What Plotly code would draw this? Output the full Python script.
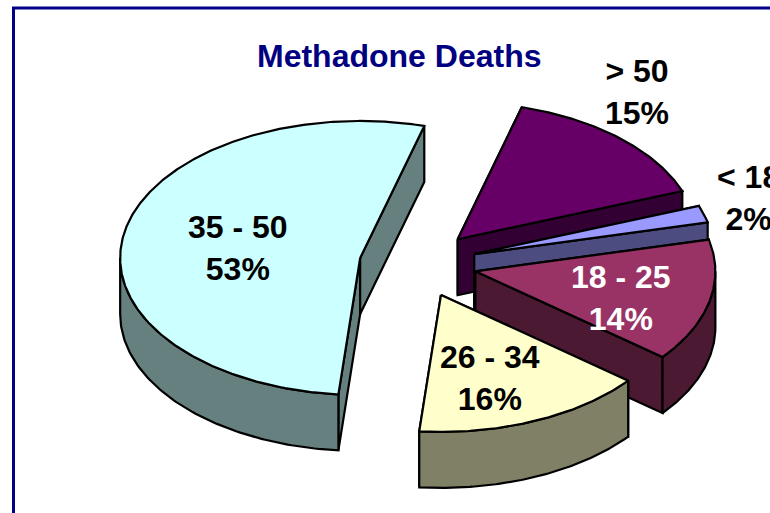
import numpy as np
import plotly.graph_objects as go

# ---- data ----
categories = ["35 - 50", "> 50", "< 18", "18 - 25", "26 - 34"]
percents = [52.86, 14.97, 2.0, 14.49, 15.68]   # shares
title_text = "Methadone Deaths"

# ---- styling ----
top_colors = ["#CCFFFF", "#660066", "#9999FF", "#993366", "#FFFFCC"]
wall_colors = ["#668080", "#330033", "#4C4C80", "#4C1933", "#808066"]
label_colors = ["#000000", "#000000", "#000000", "#FFFFFF", "#000000"]
label_pos = [(238, 248), (637, 92), (748, 198), (621, 298), (490, 378)]

CX, CY = 418, 264        # pie centre in page pixels
RX, RY = 240, 137        # ellipse radii
DEPTH = 56               # extrusion height
EXPLODE = 0.245          # fraction of radius
START = 185.2            # clockwise from 12 o'clock, first slice start
W, H = 770, 513


def pt(angle, ox, oy, r=1.0):
    a = np.radians(angle)
    return ox + r * RX * np.sin(a), oy - r * RY * np.cos(a)


fig = go.Figure()


def poly(xs, ys, color):
    fig.add_trace(go.Scatter(
        x=list(xs) + [xs[0]], y=list(ys) + [ys[0]], mode="lines", fill="toself",
        fillcolor=color, line=dict(color="#000000", width=2.2),
        hoverinfo="skip", showlegend=False))


# compute slices from the values
total = sum(percents)
slices = []
a = START
for name, p, tc, wc in zip(categories, percents, top_colors, wall_colors):
    sweep = 360 * p / total
    mid = a + sweep / 2
    ox = CX + EXPLODE * RX * np.sin(np.radians(mid))
    oy = CY - EXPLODE * RY * np.cos(np.radians(mid))
    slices.append((a, a + sweep, ox, oy, tc, wc))
    a += sweep


def draw(s):
    a0, a1, ox, oy, tc, wc = s
    # radial walls
    for ang in (a0, a1):
        x1, y1 = pt(ang, ox, oy)
        poly([ox, x1, x1, ox], [oy, y1, y1 + DEPTH, oy + DEPTH], wc)
    # outer wall: the part of the rim facing the viewer (90..270 deg)
    for k in (0, 1):
        lo = max(a0, 90 + 360 * k)
        hi = min(a1, 270 + 360 * k)
        if hi > lo:
            t = np.linspace(lo, hi, 90)
            xs, ys = pt(t, ox, oy)
            poly(list(xs) + list(xs[::-1]),
                 list(ys) + list((ys + DEPTH)[::-1]), wc)
    # top face
    t = np.linspace(a0, a1, max(int(a1 - a0) * 2, 12))
    xs, ys = pt(t, ox, oy)
    poly([ox] + list(xs), [oy] + list(ys), tc)


# back to front: the separated slices overlap in this order
for i in (0, 1, 2, 3, 4):
    draw(slices[i])

annotations = [dict(x=398.5, y=56, text=f"<b>{title_text}</b>", showarrow=False,
                    font=dict(family="Liberation Sans", size=32, color="#000080"),
                    xanchor="center", yanchor="middle")]
for name, p, col, (lx, ly) in zip(categories, percents, label_colors, label_pos):
    annotations.append(dict(
        x=lx, y=ly, text=f"<b>{name}<br>{round(p)}%</b>", showarrow=False, align="center",
        font=dict(family="Liberation Sans", size=32, color=col),
        xanchor="center", yanchor="middle"))

fig.update_layout(
    width=W, height=H, margin=dict(l=0, r=0, t=0, b=0),
    paper_bgcolor="#FFFFFF", plot_bgcolor="#FFFFFF",
    xaxis=dict(range=[0, W], visible=False, fixedrange=True),
    yaxis=dict(range=[H, 0], visible=False, fixedrange=True),
    annotations=annotations, showlegend=False,
    shapes=[dict(type="rect", xref="x", yref="y", x0=13.5, y0=8, x1=W + 20, y1=H + 20,
                 line=dict(color="#000088", width=3), fillcolor="rgba(0,0,0,0)", layer="below")],
)
fig.write_html("out.html", config=dict(displayModeBar=False),
               post_script="document.body.style.margin='0';document.body.style.overflow='hidden';")
